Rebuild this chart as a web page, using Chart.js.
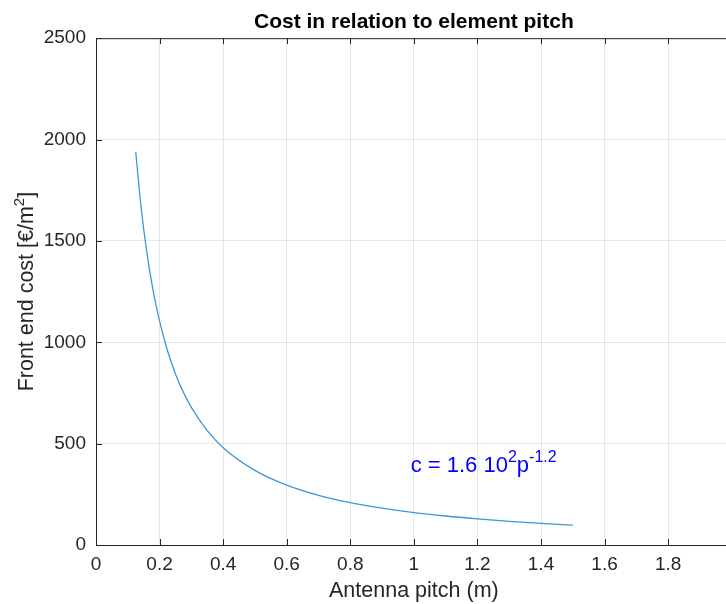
<!DOCTYPE html>
<html>
<head>
<meta charset="utf-8">
<script src="https://cdn.jsdelivr.net/npm/chart.js@4.4.0/dist/chart.umd.min.js"></script>
<style>
  html, body { margin: 0; padding: 0; background: #fff; overflow: hidden; }
  #wrap { width: 745px; height: 604px; position: relative; }
</style>
</head>
<body>
<div id="wrap"><canvas id="c"></canvas></div>
<script>
// antenna pitch (m) and front end cost (EUR/m^2)
const pitch = [0.125, 0.1375, 0.15, 0.1625, 0.175, 0.1875, 0.2, 0.225, 0.25, 0.275, 0.3, 0.35, 0.4, 0.5, 0.6, 0.7, 0.8, 0.9, 1.0, 1.1, 1.2, 1.3, 1.4, 1.5];
const cost  = [1940, 1730, 1559, 1416, 1296, 1193, 1104, 958, 844, 753, 679, 564, 480, 368, 295, 245, 209, 182, 160, 143, 129, 117, 107, 98];

const xTicks = [0, 0.2, 0.4, 0.6, 0.8, 1, 1.2, 1.4, 1.6, 1.8, 2];
const yTicks = [0, 500, 1000, 1500, 2000, 2500];

const fitLabel = { x: 0.99, y: 358 }; // where the fit equation sits

const axisCol = '#262626';
const FONT = 'Liberation Sans, Arial, Helvetica, sans-serif';

// draw a run of [text, isSuperscript] pieces starting at x, baseline y
function drawRich(ctx, parts, x, y, size, supSize, rise) {
  parts.forEach(([t, sup]) => {
    ctx.font = (sup ? supSize : size) + 'px ' + FONT;
    ctx.fillText(t, x, sup ? y - rise : y);
    x += ctx.measureText(t).width;
  });
}
function richWidth(ctx, parts, size, supSize) {
  let w = 0;
  parts.forEach(([t, sup]) => {
    ctx.font = (sup ? supSize : size) + 'px ' + FONT;
    w += ctx.measureText(t).width;
  });
  return w;
}

// matlab-ish box: inward ticks on bottom/top/left, y label and fit equation with superscripts
const boxPlugin = {
  id: 'box',
  afterDraw(chart) {
    const { ctx, chartArea: a, scales } = chart;
    ctx.save();
    ctx.strokeStyle = axisCol;
    ctx.lineWidth = 1;
    ctx.beginPath();
    ctx.moveTo(a.left + 0.5, a.bottom + 0.5);
    ctx.lineTo(a.left + 0.5, a.top + 0.5);
    ctx.lineTo(a.right, a.top + 0.5);
    ctx.moveTo(a.left, a.bottom + 0.5);
    ctx.lineTo(a.right, a.bottom + 0.5);
    xTicks.forEach(v => {
      const px = Math.round(scales.x.getPixelForValue(v)) + 0.5;
      ctx.moveTo(px, a.bottom); ctx.lineTo(px, a.bottom - 6);
      ctx.moveTo(px, a.top); ctx.lineTo(px, a.top + 6);
    });
    yTicks.forEach(v => {
      const py = Math.round(scales.y.getPixelForValue(v)) + 0.5;
      ctx.moveTo(a.left, py); ctx.lineTo(a.left + 6, py);
    });
    ctx.stroke();

    ctx.textBaseline = 'alphabetic';
    ctx.textAlign = 'left';

    // y axis label, rotated
    const yLab = [['Front end cost [€/m', false], ['2', true], [']', false]];
    const wy = richWidth(ctx, yLab, 21.5, 15);
    ctx.save();
    ctx.translate(33, (a.top + a.bottom) / 2);
    ctx.rotate(-Math.PI / 2);
    ctx.fillStyle = axisCol;
    drawRich(ctx, yLab, -wy / 2, 0, 21.5, 15, 9);
    ctx.restore();

    // c = 1.6 10^2 p^-1.2
    const x = scales.x.getPixelForValue(fitLabel.x);
    const y = scales.y.getPixelForValue(fitLabel.y);
    ctx.fillStyle = '#0000ff';
    drawRich(ctx, [['c = 1.6 10', false], ['2', true], ['p', false], ['-1.2', true]], x, y, 22, 16, 10);
    ctx.restore();
  }
};

new Chart(document.getElementById('c'), {
  type: 'line',
  data: {
    datasets: [{
      data: pitch.map((p, i) => ({ x: p, y: cost[i] })),
      borderColor: '#3d97d6',
      borderWidth: 1.3,
      pointRadius: 0,
      cubicInterpolationMode: 'monotone',
      fill: false
    }]
  },
  options: {
    responsive: true,
    maintainAspectRatio: false,
    animation: false,
    layout: { padding: { left: 0, right: 6, top: 0, bottom: 0 } },
    plugins: {
      legend: { display: false },
      tooltip: { enabled: false },
      title: {
        display: true,
        fullSize: false,
        text: 'Cost in relation to element pitch',
        color: '#000',
        font: { family: FONT, size: 21, weight: 'bold' },
        padding: { top: 10, bottom: 3 }
      }
    },
    scales: {
      x: {
        type: 'linear',
        min: 0, max: 2,
        afterBuildTicks: s => { s.ticks = xTicks.map(v => ({ value: v })); },
        afterFit: s => { s.height = 59; },
        border: { display: false },
        grid: { color: 'rgba(0,0,0,0.09)', drawTicks: false },
        ticks: {
          color: axisCol, padding: 8,
          font: { family: FONT, size: 19 },
          callback: v => String(v)
        },
        title: {
          display: true, text: 'Antenna pitch (m)', color: axisCol,
          font: { family: FONT, size: 21.5 }, padding: { top: 0, bottom: 0 }
        }
      },
      y: {
        min: 0, max: 2500,
        afterBuildTicks: s => { s.ticks = yTicks.map(v => ({ value: v })); },
        afterFit: s => { s.width = 96; },
        border: { display: false },
        grid: { color: 'rgba(0,0,0,0.09)', drawTicks: false },
        ticks: {
          color: axisCol, padding: 10,
          font: { family: FONT, size: 19 },
          callback: v => String(v)
        }
      }
    }
  },
  plugins: [boxPlugin]
});
</script>
</body>
</html>
